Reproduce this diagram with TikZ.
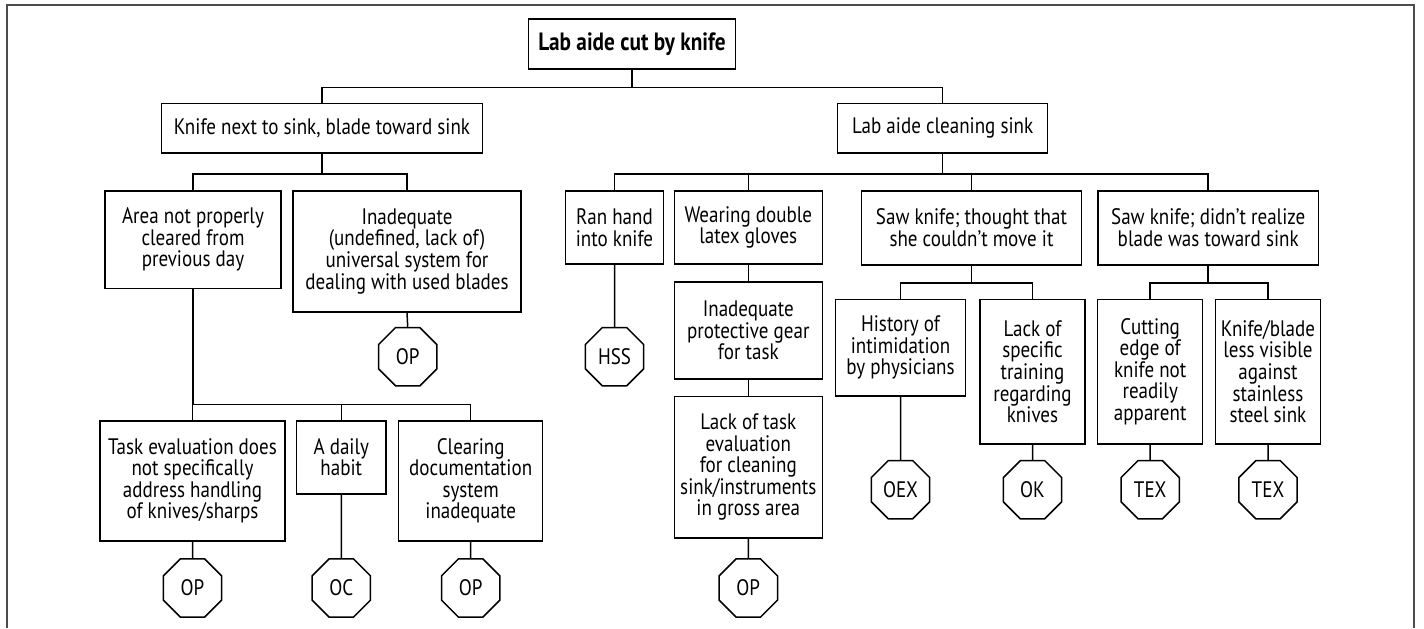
\documentclass[tikz,border=0pt]{standalone}
\usepackage{fontspec}
\setmainfont{PT Sans}[FakeStretch=0.85]
\usetikzlibrary{shapes.geometric}

\begin{document}
\begin{tikzpicture}[x=0.5pt, y=-0.5pt,
  event/.style={shape=rectangle, draw, line width=0.75pt, anchor=north, align=center, inner sep=1pt, font=\fontsize{11.2}{10.8}\selectfont},
  octo/.style={shape=regular polygon, regular polygon sides=8, draw, line width=0.75pt, minimum size=31.6pt, inner sep=0pt, font=\fontsize{11.2}{10.8}\selectfont}]
\useasboundingbox (0,0) rectangle (1424,628);
\draw [black!70, line width=0.6pt] (7,628) -- (7,5) -- (1414,5) -- (1414,628);

\node [event, minimum width=103.5pt, minimum height=25pt, font=\fontsize{12.5}{12}\selectfont\bfseries] (Root) at (632,18.3) {Lab aide cut by knife};
\node [event, minimum width=160.3pt, minimum height=24.8pt] (Knife) at (322,102.7) {Knife next to sink, blade toward sink};
\node [event, minimum width=105pt, minimum height=24.8pt] (Clean) at (942.7,102.7) {Lab aide cleaning sink};

\node [event, minimum width=88pt, minimum height=48.9pt] (Area) at (193,190) {Area not properly\\cleared from\\previous day};
\node [event, minimum width=113.8pt, minimum height=60.5pt] (Blades) at (407,190) {Inadequate\\(undefined, lack of)\\universal system for\\dealing with used blades};
\node [event, minimum width=48.8pt, minimum height=36.7pt] (Ran) at (614.5,190) {Ran hand\\into knife};
\node [event, minimum width=74pt, minimum height=36.7pt] (Gloves) at (748.3,190) {Wearing double\\latex gloves};
\node [event, minimum width=110.2pt, minimum height=37pt] (SawMove) at (971.5,190) {Saw knife; thought that\\she couldn’t move it};
\node [event, minimum width=110.2pt, minimum height=37pt] (SawBlade) at (1208.2,190) {Saw knife; didn’t realize\\blade was toward sink};

\node [event, minimum width=74pt, minimum height=48.7pt] (Gear) at (748.3,281) {Inadequate\\protective gear\\for task};
\node [event, minimum width=74pt, minimum height=70.7pt] (TaskLack) at (748.3,395.7) {Lack of task\\evaluation\\for cleaning\\sink/instruments\\in gross area};
\node [event, minimum width=65.2pt, minimum height=48.3pt] (History) at (900.5,298.7) {History of\\intimidation\\by physicians};
\node [event, minimum width=52.5pt, minimum height=72.2pt] (Training) at (1032.5,298.7) {Lack of\\specific\\training\\regarding\\knives};
\node [event, minimum width=52.5pt, minimum height=72.2pt] (Edge) at (1150.2,298.7) {Cutting\\edge of\\knife not\\readily\\apparent};
\node [event, minimum width=52.3pt, minimum height=72.2pt] (Visible) at (1268,298.7) {Knife/blade\\less visible\\against\\stainless\\steel sink};

\node [event, minimum width=92.5pt, minimum height=60pt] (TaskEval) at (192.5,420) {Task evaluation does\\not specifically\\address handling\\of knives/sharps};
\node [event, minimum width=44.7pt, minimum height=36.5pt] (Habit) at (341.3,420) {A daily\\habit};
\node [event, minimum width=72pt, minimum height=60pt] (Clearing) at (470.7,420) {Clearing\\documentation\\system\\inadequate};

\node [octo] (O1) at (407.7,356.7) {OP};
\node [octo] (O2) at (614.5,356.7) {HSS};
\node [octo] (O3) at (900.5,489.7) {OEX};
\node [octo] (O4) at (1032.5,489.7) {OK};
\node [octo] (O5) at (1150.2,489.7) {TEX};
\node [octo] (O6) at (1268,489.7) {TEX};
\node [octo] (O7) at (192.5,588) {OP};
\node [octo] (O8) at (341.3,588) {OC};
\node [octo] (O9) at (470.7,588) {OP};
\node [octo] (O10) at (748.3,588) {OP};

\draw [line width=0.75pt] (Root.south) -- ++(0,17.7) -| (Knife.north);
\draw [line width=0.75pt] (Root.south) -- ++(0,17.7) -| (Clean.north);
\draw [line width=0.75pt] (Knife.south) -- ++(0,20.4) -| (Area.north);
\draw [line width=0.75pt] (Knife.south) -- ++(0,20.4) -| (Blades.north);
\draw [line width=0.75pt] (Clean.south) -- ++(0,20.4) -| (Ran.north);
\draw [line width=0.75pt] (Clean.south) -- ++(0,20.4) -| (Gloves.north);
\draw [line width=0.75pt] (Clean.south) -- ++(0,20.4) -| (SawMove.north);
\draw [line width=0.75pt] (Clean.south) -- ++(0,20.4) -| (SawBlade.north);
\draw [line width=0.75pt] (Area.south) -- ++(0,115.3) -| (TaskEval.north);
\draw [line width=0.75pt] (Area.south) -- ++(0,115.3) -| (Habit.north);
\draw [line width=0.75pt] (Area.south) -- ++(0,115.3) -| (Clearing.north);
\draw [line width=0.75pt] (SawMove.south) -- ++(0,17.3) -| (History.north);
\draw [line width=0.75pt] (SawMove.south) -- ++(0,17.3) -| (Training.north);
\draw [line width=0.75pt] (SawBlade.south) -- ++(0,17.3) -| (Edge.north);
\draw [line width=0.75pt] (SawBlade.south) -- ++(0,17.3) -| (Visible.north);
\draw [line width=0.75pt] (Gloves.south) -- (Gear.north);
\draw [line width=0.75pt] (Gear.south) -- (TaskLack.north);
\draw [line width=0.75pt] (Blades.south) -- (O1.north);
\draw [line width=0.75pt] (Ran.south) -- (O2.north);
\draw [line width=0.75pt] (History.south) -- (O3.north);
\draw [line width=0.75pt] (Training.south) -- (O4.north);
\draw [line width=0.75pt] (Edge.south) -- (O5.north);
\draw [line width=0.75pt] (Visible.south) -- (O6.north);
\draw [line width=0.75pt] (TaskEval.south) -- (O7.north);
\draw [line width=0.75pt] (Habit.south) -- (O8.north);
\draw [line width=0.75pt] (Clearing.south) -- (O9.north);
\draw [line width=0.75pt] (TaskLack.south) -- (O10.north);
\end{tikzpicture}
\end{document}
